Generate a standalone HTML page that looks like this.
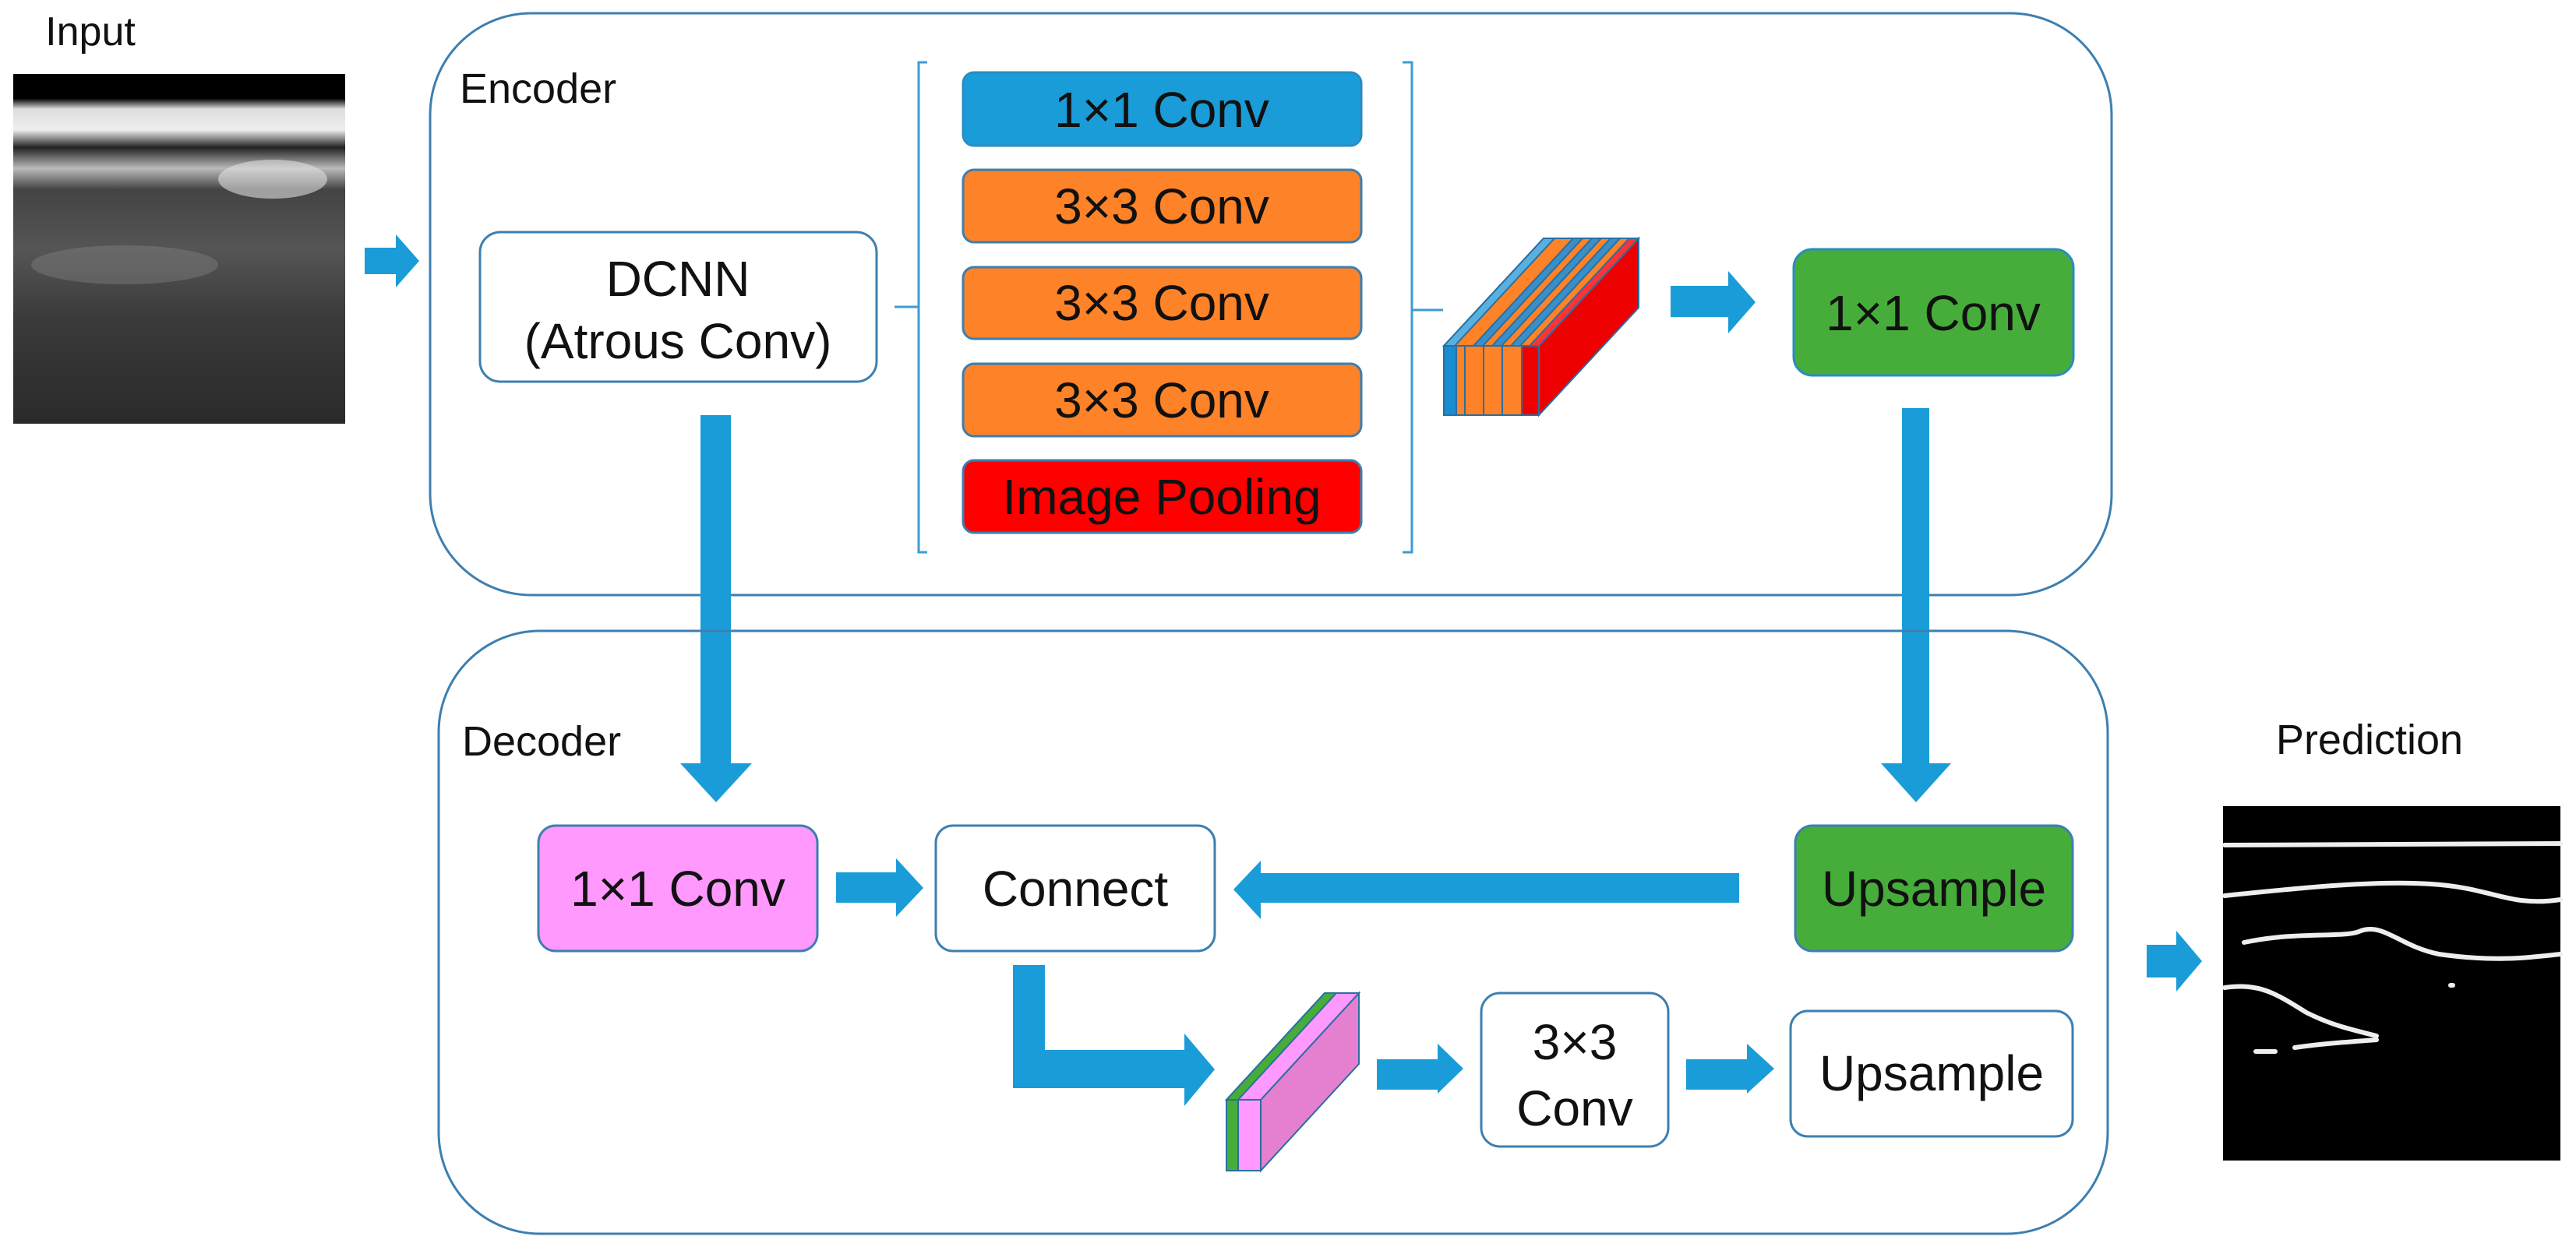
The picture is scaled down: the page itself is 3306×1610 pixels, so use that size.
<!DOCTYPE html>
<html><head><meta charset="utf-8"><style>
html,body{margin:0;padding:0;background:#fff;}
svg{display:block;}
text{font-family:"Liberation Sans",sans-serif;fill:#111;}
</style></head><body>
<svg width="3306" height="1610" viewBox="0 0 3306 1610" xmlns="http://www.w3.org/2000/svg">
<defs>
<linearGradient id="inp" x1="0" y1="0" x2="0" y2="1">
<stop offset="0" stop-color="#000"/>
<stop offset="0.07" stop-color="#000"/>
<stop offset="0.10" stop-color="#ddd"/>
<stop offset="0.16" stop-color="#eee"/>
<stop offset="0.21" stop-color="#222"/>
<stop offset="0.27" stop-color="#bbb"/>
<stop offset="0.33" stop-color="#444"/>
<stop offset="0.5" stop-color="#555"/>
<stop offset="0.7" stop-color="#3a3a3a"/>
<stop offset="1" stop-color="#2a2a2a"/>
</linearGradient>
</defs>

<!-- Input -->
<text x="116" y="58" font-size="52" text-anchor="middle">Input</text>
<rect x="17" y="95" width="426" height="449" fill="url(#inp)"/>
<ellipse cx="350" cy="230" rx="70" ry="25" fill="#ddd" opacity="0.6"/>
<ellipse cx="160" cy="340" rx="120" ry="25" fill="#888" opacity="0.4"/>

<!-- arrow input->encoder -->
<polygon points="468,318 508,318 508,301 538,335 508,369 508,352 468,352" fill="#1a9cd8"/>

<!-- Encoder -->
<rect x="552" y="17" width="2158" height="747" rx="130" ry="130" fill="none" stroke="#3d7fb0" stroke-width="3"/>
<text x="590" y="132" font-size="54">Encoder</text>

<rect x="616" y="298" width="509" height="192" rx="26" fill="#fff" stroke="#3d7fb0" stroke-width="3"/>
<text x="870" y="380" font-size="64" text-anchor="middle">DCNN</text>
<text x="870" y="460" font-size="64" text-anchor="middle">(Atrous Conv)</text>

<!-- brackets -->
<path d="M1190,80 L1179,80 L1179,394 L1148,394 M1179,394 L1179,709 L1190,709" fill="none" stroke="#3d9bd3" stroke-width="3"/>
<path d="M1800,80 L1812,80 L1812,398 L1852,398 M1812,398 L1812,709 L1800,709" fill="none" stroke="#3d9bd3" stroke-width="3"/>

<rect x="1236" y="93" width="511" height="94" rx="14" fill="#1a9cd8" stroke="#2a8cc0" stroke-width="3"/>
<text x="1491" y="163" font-size="64" text-anchor="middle">1×1 Conv</text>
<rect x="1236" y="218" width="511" height="93" rx="14" fill="#fd8228" stroke="#3d7fb0" stroke-width="3"/>
<text x="1491" y="287" font-size="64" text-anchor="middle">3×3 Conv</text>
<rect x="1236" y="343" width="511" height="92" rx="14" fill="#fd8228" stroke="#3d7fb0" stroke-width="3"/>
<text x="1491" y="411" font-size="64" text-anchor="middle">3×3 Conv</text>
<rect x="1236" y="467" width="511" height="93" rx="14" fill="#fd8228" stroke="#3d7fb0" stroke-width="3"/>
<text x="1491" y="536" font-size="64" text-anchor="middle">3×3 Conv</text>
<rect x="1236" y="591" width="511" height="93" rx="14" fill="#fe0000" stroke="#3d7fb0" stroke-width="3"/>
<text x="1491" y="660" font-size="64" text-anchor="middle">Image Pooling</text>

<!-- stacked tensor -->
<g stroke="#2a6fa0" stroke-width="2">
<polygon points="1975,444 2103,306 2103,395 1975,533" fill="#ee0000"/>
<polygon points="1853,444 1981,306 2103,306 1975,444" fill="#fd8228"/>
<polygon points="1853,444 1981,306 1995,306 1867,444" fill="#58b0e0"/>
<polygon points="1891,444 2019,306 2031,306 1903,444" fill="#3a8fc8"/>
<polygon points="1915,444 2043,306 2055,306 1927,444" fill="#3a8fc8"/>
<polygon points="1939,444 2067,306 2079,306 1951,444" fill="#3a8fc8"/>
<polygon points="1963,444 2091,306 2103,306 1975,444" fill="#ff3333"/>
<rect x="1853" y="444" width="122" height="89" fill="#fd8228"/>
<rect x="1853" y="444" width="16" height="89" fill="#1a8cd0"/>
<rect x="1953" y="444" width="22" height="89" fill="#ee0000"/>
<line x1="1880" y1="444" x2="1880" y2="533"/>
<line x1="1904" y1="444" x2="1904" y2="533"/>
<line x1="1928" y1="444" x2="1928" y2="533"/>
</g>

<polygon points="2144,367 2218,367 2218,348 2253,388 2218,428 2218,407 2144,407" fill="#1a9cd8"/>

<rect x="2302" y="320" width="359" height="162" rx="24" fill="#46ad3a" stroke="#2a8cc0" stroke-width="3"/>
<text x="2481" y="424" font-size="64" text-anchor="middle">1×1 Conv</text>

<!-- down arrows -->
<polygon points="899,533 938,533 938,980 965,980 919,1030 873,980 899,980" fill="#1a9cd8"/>
<polygon points="2441,524 2476,524 2476,980 2504,980 2459,1030 2414,980 2441,980" fill="#1a9cd8"/>

<!-- Decoder -->
<rect x="563" y="810" width="2142" height="774" rx="130" ry="130" fill="none" stroke="#3d7fb0" stroke-width="3"/>
<text x="593" y="970" font-size="54">Decoder</text>

<rect x="691" y="1060" width="358" height="161" rx="22" fill="#ff99fe" stroke="#3d7fb0" stroke-width="3"/>
<text x="870" y="1163" font-size="64" text-anchor="middle">1×1 Conv</text>

<polygon points="1073,1120 1150,1120 1150,1102 1185,1140 1150,1177 1150,1159 1073,1159" fill="#1a9cd8"/>

<rect x="1201" y="1060" width="358" height="161" rx="22" fill="#fff" stroke="#3d7fb0" stroke-width="3"/>
<text x="1380" y="1163" font-size="64" text-anchor="middle">Connect</text>

<polygon points="2232,1121 1618,1121 1618,1105 1583,1142 1618,1180 1618,1159 2232,1159" fill="#1a9cd8"/>

<rect x="2304" y="1060" width="356" height="161" rx="22" fill="#46ad3a" stroke="#3d7fb0" stroke-width="3"/>
<text x="2482" y="1163" font-size="64" text-anchor="middle">Upsample</text>

<!-- L arrow -->
<polygon points="1300,1239 1341,1239 1341,1348 1520,1348 1520,1327 1559,1373 1520,1420 1520,1397 1300,1397" fill="#1a9cd8"/>

<!-- thin tensor -->
<g stroke="#2a6fa0" stroke-width="2">
<polygon points="1618,1412 1744,1275 1744,1366 1618,1503" fill="#e57fd0"/>
<polygon points="1574,1412 1700,1275 1744,1275 1618,1412" fill="#ff99fe"/>
<polygon points="1574,1412 1700,1275 1715,1275 1589,1412" fill="#46ad3a"/>
<rect x="1574" y="1412" width="15" height="91" fill="#46ad3a"/>
<rect x="1589" y="1412" width="29" height="91" fill="#ff99fe"/>
</g>

<polygon points="1767,1360 1845,1360 1845,1340 1878,1372 1845,1404 1845,1399 1767,1399" fill="#1a9cd8"/>

<rect x="1901" y="1275" width="240" height="197" rx="24" fill="#fff" stroke="#3d7fb0" stroke-width="3"/>
<text x="2021" y="1360" font-size="64" text-anchor="middle">3×3</text>
<text x="2021" y="1445" font-size="64" text-anchor="middle">Conv</text>

<polygon points="2164,1360 2242,1360 2242,1340 2277,1372 2242,1404 2242,1399 2164,1399" fill="#1a9cd8"/>

<rect x="2298" y="1298" width="362" height="161" rx="22" fill="#fff" stroke="#3d7fb0" stroke-width="3"/>
<text x="2479" y="1400" font-size="64" text-anchor="middle">Upsample</text>

<!-- arrow to prediction -->
<polygon points="2755,1213 2793,1213 2793,1195 2826,1234 2793,1273 2793,1255 2755,1255" fill="#1a9cd8"/>

<!-- Prediction -->
<text x="3041" y="968" font-size="54" text-anchor="middle">Prediction</text>
<rect x="2853" y="1035" width="433" height="455" fill="#000"/>
<g fill="none" stroke="#eee" stroke-width="6" stroke-linecap="round">
<path d="M2855,1085 L3286,1083"/>
<path d="M2855,1150 C2950,1140 3050,1130 3120,1135 C3200,1140 3220,1165 3286,1155"/>
<path d="M2855,1220 M2880,1210 C2950,1195 3010,1205 3030,1195 C3060,1185 3080,1215 3130,1225 C3200,1235 3240,1230 3286,1225"/>
<path d="M2855,1268 C2900,1262 2920,1275 2960,1300 C2990,1315 3010,1320 3050,1330"/>
<path d="M2895,1350 L2920,1350 M2945,1345 C2980,1340 3010,1338 3050,1335"/>
<path d="M3145,1265 L3148,1265"/>
</g>
</svg>
</body></html>
